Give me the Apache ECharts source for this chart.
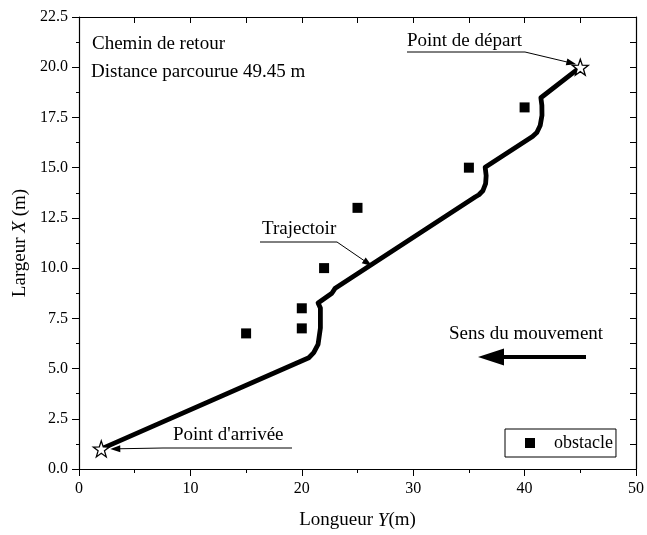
<!DOCTYPE html>
<html><head><meta charset="utf-8">
<script src="https://cdn.jsdelivr.net/npm/echarts@6/dist/echarts.min.js"></script>
<style>html,body{margin:0;padding:0;background:#fff}#c{width:647px;height:535px}</style>
</head><body><div id="c"></div>
<script>
// ---- data ----
const xRange = [0, 50];
const xStep = 10;
const yRange = [0, 22.5];
const yStep = 2.5;
const trajectoryName = 'Trajectoir';
const trajectory = [
  [45, 20], [41.46, 18.48], [41.55, 18.1], [41.56, 17.6], [41.4, 17.1], [41.1, 16.75], [40.71, 16.55],
  [36.46, 15.02], [36.55, 14.6], [36.5, 14.2], [36.25, 13.85], [35.9, 13.65], [35.56, 13.54],
  [23.0, 9.0], [22.7, 8.75], [21.46, 8.26], [21.67, 8.01], [21.67, 7.02], [21.46, 6.2],
  [21.07, 5.79], [20.63, 5.54], [2, 1]
];
const obstacleName = 'obstacle';
const obstacles = [[15, 6.75], [20, 7], [20, 8], [22, 10], [25, 13], [35, 15], [40, 18]];
const endpoints = [[45, 20], [2, 1]];
const texts = {
  title1: 'Chemin de retour',
  title2: 'Distance parcourue 49.45 m',
  start: 'Point de départ',
  end: "Point d'arrivée",
  traj: 'Trajectoir',
  dir: 'Sens du mouvement',
  xName: 'Longueur ',
  xVar: 'Y',
  xUnit: '(m)',
  yName: 'Largeur ',
  yVar: 'X',
  yUnit: ' (m)'
};

// ---- chart ----
const FONT = '"Liberation Serif", "DejaVu Serif", serif';
const chart = echarts.init(document.getElementById('c'), null, {renderer: 'canvas'});
const star = 'path://M0,-10 L2.35,-3.24 L9.51,-3.09 L3.80,1.24 L5.88,8.09 L0,4 L-5.88,8.09 L-3.80,1.24 L-9.51,-3.09 L-2.35,-3.24 Z';
const axisLine = {show: true, onZero: false, lineStyle: {color: '#000', width: 1.2}};
const nameRich = {
  n: {fontFamily: FONT, fontSize: 19, color: '#000'},
  i: {fontFamily: FONT, fontSize: 19, color: '#000', fontStyle: 'italic'}
};
chart.setOption({
  animation: false,
  backgroundColor: '#fff',
  grid: {left: 79, right: 8, top: 17, bottom: 63},
  legend: {
    data: [obstacleName], left: 505, top: 429, icon: 'rect', itemWidth: 10, itemHeight: 10,
    borderColor: '#000', borderWidth: 1, padding: [5, 3, 5, 20],
    itemStyle: {opacity: 1},
    textStyle: {fontFamily: FONT, fontSize: 18, color: '#000', padding: [0, 0, 0, 14]}
  },
  xAxis: [{
    type: 'value', min: xRange[0], max: xRange[1], interval: xStep, position: 'bottom',
    axisLine, splitLine: {show: false},
    axisTick: {show: true, inside: false, length: 7, lineStyle: {color: '#000'}},
    minorTick: {show: true, splitNumber: 2, length: 4, lineStyle: {color: '#000'}},
    axisLabel: {fontFamily: FONT, fontSize: 16, color: '#000', margin: 12},
    name: '{n|' + texts.xName + '}{i|' + texts.xVar + '}{n|' + texts.xUnit + '}',
    nameLocation: 'middle', nameGap: 42, nameTextStyle: {rich: nameRich}
  }, {
    type: 'value', min: xRange[0], max: xRange[1], interval: xStep, position: 'top',
    axisLine, splitLine: {show: false}, axisLabel: {show: false},
    axisTick: {show: true, inside: true, length: 6, lineStyle: {color: '#000'}},
    minorTick: {show: true, splitNumber: 2, length: 6, lineStyle: {color: '#000'}}
  }],
  yAxis: [{
    type: 'value', min: yRange[0], max: yRange[1], interval: yStep, position: 'left',
    axisLine, splitLine: {show: false},
    axisTick: {show: true, inside: false, length: 7, lineStyle: {color: '#000'}},
    minorTick: {show: true, splitNumber: 2, length: 3, lineStyle: {color: '#000'}},
    axisLabel: {fontFamily: FONT, fontSize: 16, color: '#000', margin: 11, formatter: v => v.toFixed(1)},
    name: '{n|' + texts.yName + '}{i|' + texts.yVar + '}{n|' + texts.yUnit + '}',
    nameLocation: 'middle', nameGap: 48, nameTextStyle: {rich: nameRich}
  }, {
    type: 'value', min: yRange[0], max: yRange[1], interval: yStep, position: 'right',
    axisLine, splitLine: {show: false}, axisLabel: {show: false},
    axisTick: {show: true, inside: true, length: 6, lineStyle: {color: '#000'}},
    minorTick: {show: true, splitNumber: 2, length: 6, lineStyle: {color: '#000'}}
  }],
  series: [{
    name: trajectoryName, type: 'line', data: trajectory, showSymbol: false, symbol: 'none',
    lineStyle: {color: '#000', width: 4.8, join: 'round'}, z: 2
  }, {
    name: obstacleName, type: 'scatter', data: obstacles, symbol: 'rect', symbolSize: 10,
    itemStyle: {color: '#000', opacity: 1}, z: 3
  }, {
    name: 'endpoints', type: 'scatter', data: endpoints, symbol: star, symbolSize: 16,
    itemStyle: {color: '#fff', borderColor: '#000', borderWidth: 1.3, opacity: 1}, z: 5
  }]
});

function arrow(x1, y1, x2, y2, headLen, headHalf, lw) {
  const dx = x2 - x1, dy = y2 - y1, L = Math.hypot(dx, dy), ux = dx / L, uy = dy / L;
  const bx = x2 - ux * headLen, by = y2 - uy * headLen;
  return [
    {type: 'line', shape: {x1, y1, x2: bx + ux, y2: by + uy}, style: {stroke: '#000', lineWidth: lw}, z: 10},
    {type: 'polygon', shape: {points: [[x2, y2], [bx - uy * headHalf, by + ux * headHalf], [bx + uy * headHalf, by - ux * headHalf]]}, style: {fill: '#000'}, z: 10}
  ];
}
function txt(s, x, y) {
  return {type: 'text', x, y, style: {text: s, font: '19px ' + FONT, fill: '#000', textAlign: 'left', textVerticalAlign: 'middle'}, z: 10};
}
function hline(x1, x2, y) {
  return {type: 'line', shape: {x1, y1: y, x2, y2: y}, style: {stroke: '#000', lineWidth: 1}, z: 10};
}
const pStart = chart.convertToPixel({gridIndex: 0}, endpoints[0]);
const pEnd = chart.convertToPixel({gridIndex: 0}, endpoints[1]);
const g = [
  txt(texts.title1, 92, 44),
  txt(texts.title2, 91, 72),
  txt(texts.start, 407, 41), hline(407, 525, 52),
  ...arrow(525, 52, pStart[0] - 4, pStart[1] - 3, 10, 3.5, 1),
  txt(texts.traj, 262, 229), hline(260, 337, 242),
  ...arrow(337, 242, 372, 266, 10, 3.5, 1),
  txt(texts.end, 173, 435), hline(163, 292, 448),
  ...arrow(163, 448, pEnd[0] + 9, pEnd[1], 10, 3.5, 1),
  txt(texts.dir, 449, 334),
  ...arrow(586, 357, 478, 357, 26, 8.5, 4)
];
chart.setOption({graphic: g});
</script>
</body></html>
